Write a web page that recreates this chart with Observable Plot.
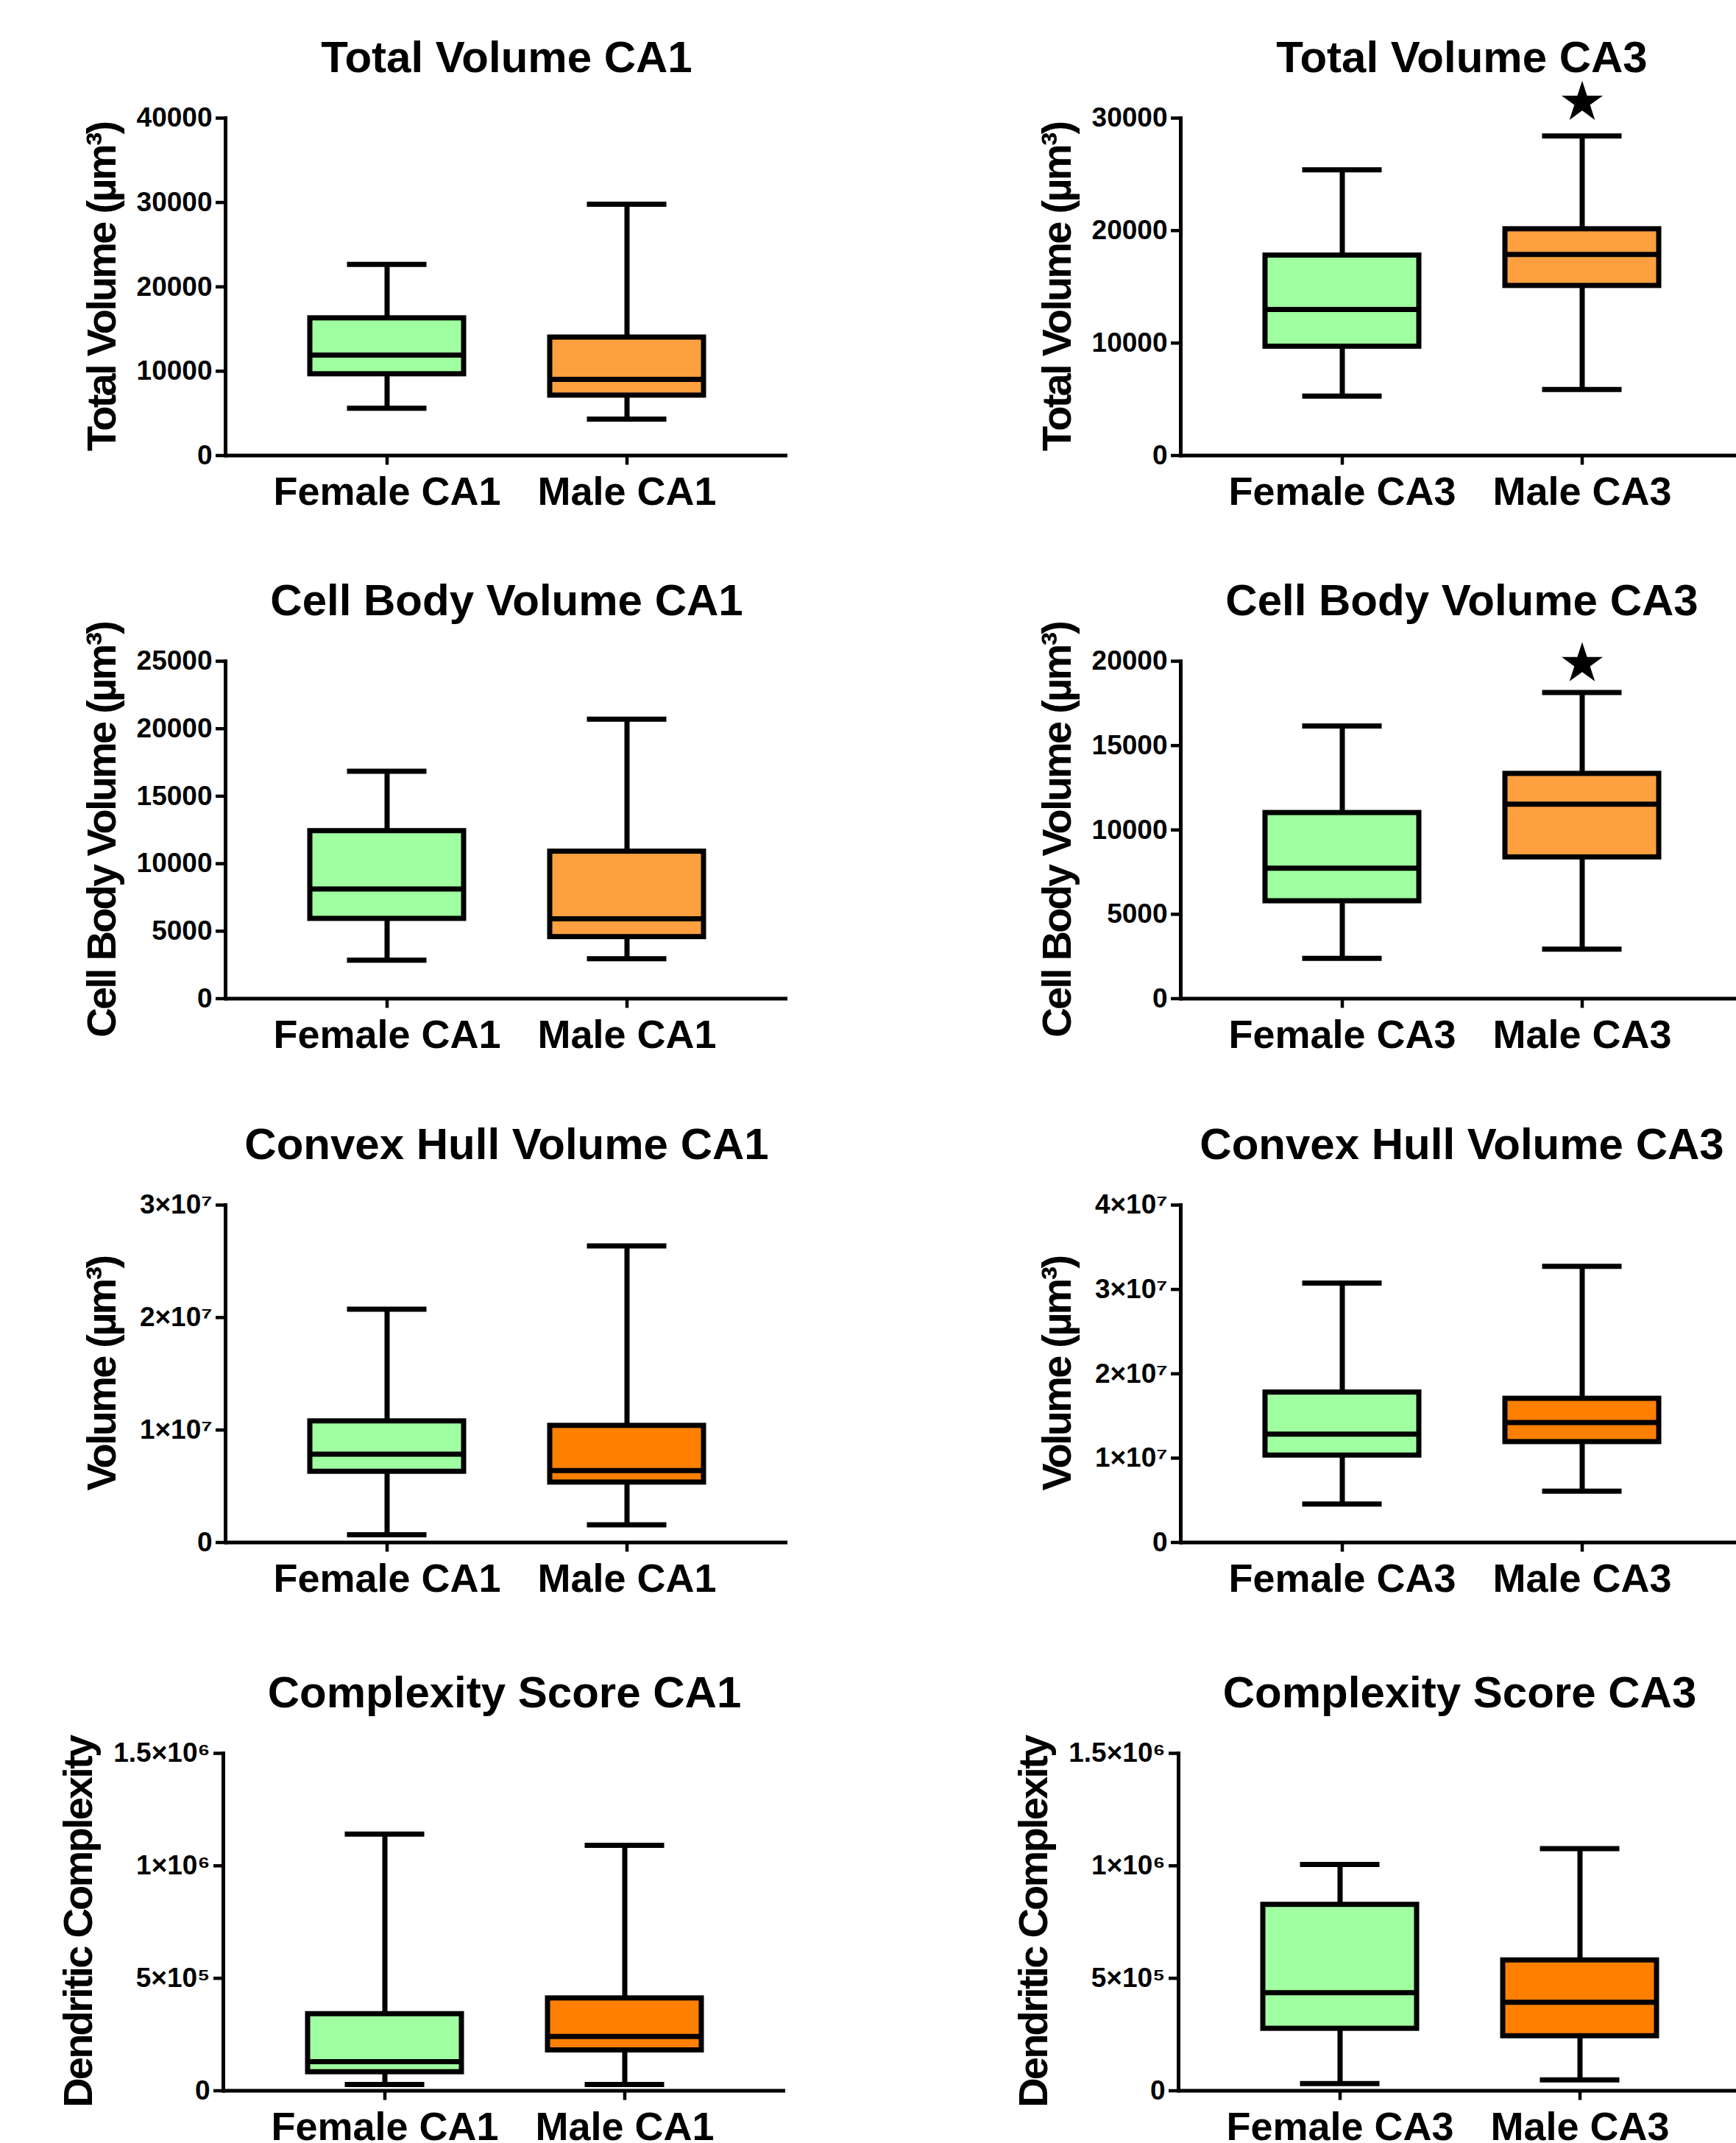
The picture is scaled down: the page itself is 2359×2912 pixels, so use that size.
<!DOCTYPE html>
<html>
<head>
<meta charset="utf-8">
<script src="https://cdn.jsdelivr.net/npm/d3@7"></script>
<script src="https://cdn.jsdelivr.net/npm/@observablehq/plot@0.6"></script>
<style>
  html, body { margin: 0; padding: 0; background: #fff; overflow: hidden; }
  #wrap { position: relative; width: 2359px; height: 2912px; overflow: hidden; background: #fff; }
  .panel { position: absolute; }
  g[aria-description="ylabel"] text { letter-spacing: -2.8px; }
</style>
</head>
<body>
<div id="wrap"></div>
<script>
// ---------------- DATA ----------------
const groupsCA1 = ["Female CA1", "Male CA1"];
const groupsCA3 = ["Female CA3", "Male CA3"];

const titles = [
  "Total Volume CA1", "Total Volume CA3",
  "Cell Body Volume CA1", "Cell Body Volume CA3",
  "Convex Hull Volume CA1", "Convex Hull Volume CA3",
  "Complexity Score CA1", "Complexity Score CA3"
];
const yLabels = [
  "Total Volume (µm³)", "Total Volume (µm³)",
  "Cell Body Volume (µm³)", "Cell Body Volume (µm³)",
  "Volume (µm³)", "Volume (µm³)",
  "Dendritic Complexity", "Dendritic Complexity"
];

// box stats: [min, q1, median, q3, max]
const totalVolCA1Female = [5600, 9650, 11900, 16280, 22650];
const totalVolCA1Male   = [4320, 7120, 9040, 14000, 29800];
const totalVolCA3Female = [5280, 9690, 12990, 17790, 25410];
const totalVolCA3Male   = [5880, 15090, 17880, 20130, 28410];

const cellBodyCA1Female = [2850, 5920, 8130, 12420, 16850];
const cellBodyCA1Male   = [2960, 4570, 5920, 10900, 20710];
const cellBodyCA3Female = [2390, 5780, 7730, 11010, 16160];
const cellBodyCA3Male   = [2930, 8380, 11530, 13330, 18150];

const hullCA1Female = [690000, 6300000, 7850000, 10780000, 20740000];
const hullCA1Male   = [1570000, 5340000, 6400000, 10380000, 26370000];
const hullCA3Female = [4560000, 10320000, 12850000, 17790000, 30750000];
const hullCA3Male   = [6090000, 11920000, 14230000, 17050000, 32740000];

const complexCA1Female = [28000, 83000, 129000, 341000, 1141000];
const complexCA1Male   = [28000, 180000, 241000, 411000, 1091000];
const complexCA3Female = [32000, 276000, 436000, 827000, 1006000];
const complexCA3Male   = [48000, 243000, 393000, 580000, 1076000];

// significance stars (value position above Male CA3)
const starTotalVolCA3 = [{group: "Male CA3", value: 31400}];
const starCellBodyCA3 = [{group: "Male CA3", value: 19850}];

// y ticks and tick labels
const ticksTotalCA1 = [0, 10000, 20000, 30000, 40000];
const ticksTotalCA3 = [0, 10000, 20000, 30000];
const ticksCellCA1  = [0, 5000, 10000, 15000, 20000, 25000];
const ticksCellCA3  = [0, 5000, 10000, 15000, 20000];
const ticksHullCA1  = [0, 10000000, 20000000, 30000000];
const labelsHullCA1 = ["0", "1×10⁷", "2×10⁷", "3×10⁷"];
const ticksHullCA3  = [0, 10000000, 20000000, 30000000, 40000000];
const labelsHullCA3 = ["0", "1×10⁷", "2×10⁷", "3×10⁷", "4×10⁷"];
const ticksComplex  = [0, 500000, 1000000, 1500000];
const labelsComplex = ["0", "5×10⁵", "1×10⁶", "1.5×10⁶"];

// ---------------- STYLE / LAYOUT ----------------
const GREEN = "#A0FFA0";
const ORANGE_LIGHT = "#FFA040";
const ORANGE = "#FF8000";

const panels = [
  {t: 0, groups: groupsCA1, f: totalVolCA1Female, m: totalVolCA1Male, ticks: ticksTotalCA1, labels: null, mFill: ORANGE_LIGHT, star: null, row: 0, col: 0},
  {t: 1, groups: groupsCA3, f: totalVolCA3Female, m: totalVolCA3Male, ticks: ticksTotalCA3, labels: null, mFill: ORANGE_LIGHT, star: starTotalVolCA3, row: 0, col: 1},
  {t: 2, groups: groupsCA1, f: cellBodyCA1Female, m: cellBodyCA1Male, ticks: ticksCellCA1, labels: null, mFill: ORANGE_LIGHT, star: null, row: 1, col: 0},
  {t: 3, groups: groupsCA3, f: cellBodyCA3Female, m: cellBodyCA3Male, ticks: ticksCellCA3, labels: null, mFill: ORANGE_LIGHT, star: starCellBodyCA3, row: 1, col: 1},
  {t: 4, groups: groupsCA1, f: hullCA1Female, m: hullCA1Male, ticks: ticksHullCA1, labels: labelsHullCA1, mFill: ORANGE, star: null, row: 2, col: 0},
  {t: 5, groups: groupsCA3, f: hullCA3Female, m: hullCA3Male, ticks: ticksHullCA3, labels: labelsHullCA3, mFill: ORANGE, star: null, row: 2, col: 1},
  {t: 6, groups: groupsCA1, f: complexCA1Female, m: complexCA1Male, ticks: ticksComplex, labels: labelsComplex, mFill: ORANGE, star: null, row: 3, col: 0},
  {t: 7, groups: groupsCA3, f: complexCA3Female, m: complexCA3Male, ticks: ticksComplex, labels: labelsComplex, mFill: ORANGE, star: null, row: 3, col: 1}
];

const frameTops = [160, 898, 1637, 2382];
const rowShiftX = [0, 0, 0, -3];
const yLabelDx = [-189, -189, -189, -218];
const colLeft = [0, 1298];
const MT = 160, MB = 110, ML = 306, FW = 764, FH = 458.5, W = 1180;

const wrap = document.getElementById("wrap");

for (const p of panels) {
  const stats = p.groups.map((g, i) => {
    const v = i === 0 ? p.f : p.m;
    return {group: g, min: v[0], q1: v[1], median: v[2], q3: v[3], max: v[4]};
  });
  const fills = {[p.groups[0]]: GREEN, [p.groups[1]]: p.mFill};
  const labelMap = p.labels ? new Map(p.ticks.map((d, i) => [d, p.labels[i]])) : null;
  const fmt = labelMap ? (d) => labelMap.get(d) : (d) => String(d);
  const row = p.row;

  const marks = [
    Plot.ruleX(stats, {x: "group", y1: "min", y2: "max", stroke: "#000", strokeWidth: 7}),
    Plot.barY(stats, {x: "group", y1: "q1", y2: "q3", fill: (d) => fills[d.group], stroke: "#000", strokeWidth: 7}),
    Plot.tickY(stats, {x: "group", y: "median", stroke: "#000", strokeWidth: 7}),
    Plot.tickY(stats, {x: "group", y: "max", stroke: "#000", strokeWidth: 7, insetLeft: 50.5, insetRight: 50.5}),
    Plot.tickY(stats, {x: "group", y: "min", stroke: "#000", strokeWidth: 7, insetLeft: 50.5, insetRight: 50.5}),
    Plot.ruleY([0], {stroke: "#000", strokeWidth: 5}),
    Plot.frame({anchor: "left", stroke: "#000", strokeWidth: 5}),
    Plot.axisY({ticks: p.ticks, tickFormat: fmt, tickSize: 13, tickPadding: 5, fontSize: 37, strokeWidth: 4.5, label: null}),
    Plot.axisX({tickSize: 13, tickPadding: 16, fontSize: 54, strokeWidth: 4.5, label: null}),
    Plot.text([titles[p.t]], {frameAnchor: "top", dy: -63, lineAnchor: "bottom", textAnchor: "middle", fontSize: 60, fill: "#000"}),
    Plot.text([yLabels[p.t]], {frameAnchor: "left", rotate: -90, dx: yLabelDx[row], lineAnchor: "top", textAnchor: "middle", fontSize: 56, fill: "#000", ariaDescription: "ylabel"})
  ];
  if (p.star) {
    marks.push(Plot.dot(p.star, {x: "group", y: "value", symbol: "star", r: 17.6, fill: "#000"}));
  }

  const chart = Plot.plot({
    width: W,
    height: MT + FH + MB,
    marginTop: MT,
    marginBottom: MB,
    marginLeft: ML,
    marginRight: W - ML - FW,
    style: {fontFamily: "'Liberation Sans', Arial, Helvetica, sans-serif", fontWeight: "bold", color: "#000", background: "transparent", maxWidth: "none", overflow: "visible"},
    x: {type: "band", domain: p.groups, paddingInner: 0.359, paddingOuter: 0.351},
    y: {domain: [0, p.ticks[p.ticks.length - 1]]},
    color: {type: "identity"},
    marks
  });

  const div = document.createElement("div");
  div.className = "panel";
  div.style.left = (colLeft[p.col] + rowShiftX[row]) + "px";
  div.style.top = (frameTops[row] - MT) + "px";
  div.appendChild(chart);
  wrap.appendChild(div);
}
</script>
</body>
</html>
